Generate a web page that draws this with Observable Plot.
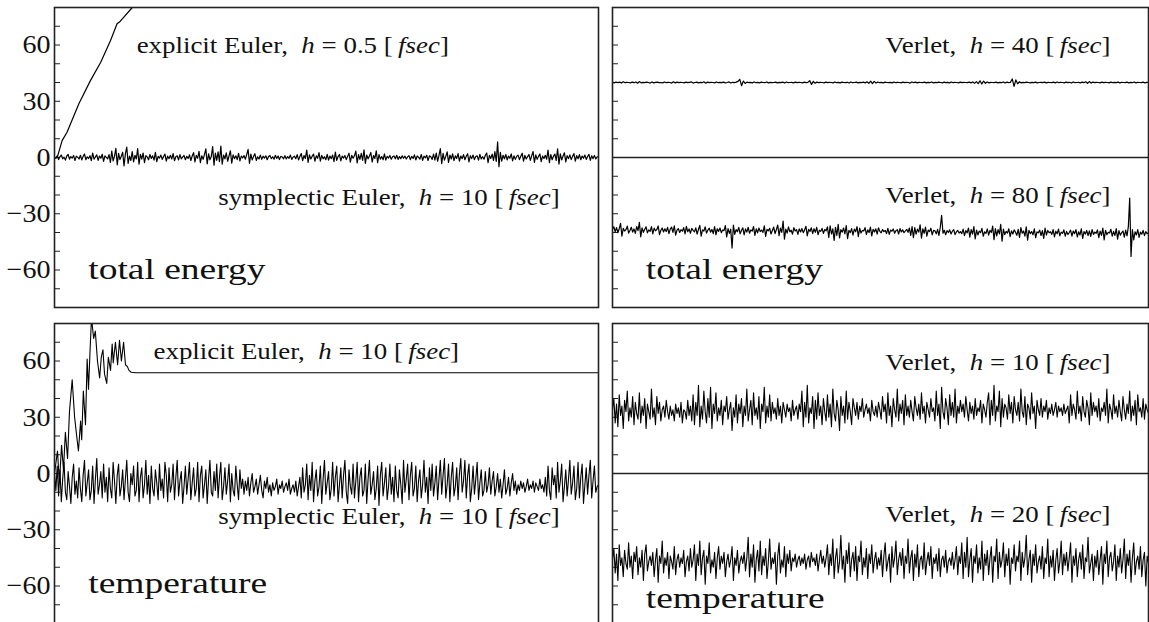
<!DOCTYPE html>
<html><head><meta charset="utf-8">
<script src="https://cdn.jsdelivr.net/npm/d3@7"></script>
<script src="https://cdn.jsdelivr.net/npm/@observablehq/plot@0.6"></script>
<style>
html,body{margin:0;padding:0;background:#fff;overflow:hidden;}
#fig{position:relative;width:1149px;height:622px;overflow:hidden;}
#fig > div{position:absolute;}
#fig text{font-family:'Liberation Serif','Times New Roman',serif !important;font-variant:normal !important;}
</style></head><body><div id="fig"></div>
<script>
// ---- data ----
const yTicks = [-70, -60, -50, -40, -30, -20, -10, 0, 10, 20, 30, 40, 50, 60, 70];
const yTickLabels = [-60, -30, 0, 30, 60];

// top-left: total energy
const energyExplicitT = [4, 6, 14, 23, 45, 66, 85, 103, 115, 121, 143, 160];
const energyExplicitV = [0, 1, 9, 13.5, 28.8, 41, 50.8, 62.4, 71.3, 72.7, 80, 89];
const energySymplectic = [
 0.3, -0.5, 0.9, -1.1, 0.4, 1.3, -0.7, 0.2, -1.4, 0.8, 1.6, -0.9, 0.5, -0.3, 1.1, -1.6, 0.7, 0.2, -0.8, 1.2,
 -1.3, 0.6, 1.9, -1.2, 0.4, -0.6, 1.0, -1.7, 2.3, -0.9, 0.3, 1.4, -1.5, 0.8, -0.4, 1.7, -2.1, 0.9, 0.1, -0.7,
 1.5, -2.6, 3.4, -1.8, 0.6, 4.9, -3.9, 2.2, -1.1, 0.7, 2.8, -4.5, 1.9, 5.6, -3.2, 0.8, -1.6, 3.1, -2.4, 1.2,
 -0.8, 4.8, -3.6, 1.7, -0.9, 2.4, -2.8, 1.0, 0.3, -1.2, 1.6, -0.5, 0.9, -1.4, 2.7, -2.2, 0.6, -0.3, 1.3, -1.0,
 0.5, 1.8, -1.9, 0.7, -0.6, 1.2, -0.8, 2.1, -1.7, 0.4, 0.9, -1.3, 1.5, -0.7, 0.2, 1.1, -1.2, 0.6, -0.5, 1.4,
 -1.6, 0.8, 2.6, -2.3, 1.1, -0.4, 3.3, -2.7, 0.9, -1.0, 1.7, 4.6, -3.4, 2.0, -1.2, 0.5, 5.8, -4.1, 2.4, -1.5,
 3.0, -2.2, 6.1, -3.6, 1.3, -0.7, 2.5, -2.0, 0.8, 3.6, -3.0, 1.4, -0.6, 0.9, -1.1, 2.2, -1.8, 0.7, -0.2, 1.0,
 -0.9, 1.6, 4.3, -3.1, 1.8, -1.3, 0.6, 2.0, -1.6, 0.4, -0.8, 1.3, -1.0, 0.7, -0.3, 0.9, -1.2, 0.5, 1.1, -0.6,
 0.4, -0.9, 1.2, -0.5, 0.8, -1.1, 0.6, 0.3, -0.7, 1.0, -0.8, 0.5, -0.4, 1.3, -1.0, 0.2, 0.7, -0.6, 1.5, -1.3,
 0.6, 2.1, -1.7, 1.0, -0.5, 3.9, -2.6, 1.4, -0.8, 0.7, 1.8, -2.0, 0.9, -0.4, 2.6, -1.9, 1.1, -0.7, 0.4, -1.2,
 1.7, -1.4, 0.8, -0.6, 1.3, -2.2, 2.9, -1.5, 0.5, 1.6, -1.8, 0.7, -0.3, 1.0, -1.1, 0.6, 2.3, -2.5, 1.2, -0.4,
 0.9, 3.4, -2.9, 1.5, -1.0, 2.2, -1.6, 4.1, -3.2, 1.3, -0.7, 0.8, 2.7, -2.4, 1.0, -0.5, 3.5, -2.8, 1.6, -0.9,
 0.5, -1.2, 1.9, -1.4, 0.6, -0.3, 1.1, -0.9, 0.4, 0.8, -0.7, 1.2, -1.0, 0.5, -0.6, 0.9, -0.4, 0.7, -0.8, 0.3,
 1.0, -1.1, 0.6, -0.5, 1.4, -1.3, 0.8, 0.2, -0.9, 1.6, -1.5, 0.7, -0.2, 1.2, -1.6, 0.9, 0.4, -1.0, 1.8, -1.4,
 2.4, -2.0, 1.1, 4.7, -3.3, 2.2, -1.4, 0.6, 3.0, -2.6, 1.3, -0.8, 1.9, -1.7, 0.9, -0.5, 2.1, -1.9, 0.8, -0.6,
 1.5, -1.2, 0.7, 2.0, -2.3, 1.0, -0.6, 1.3, -1.1, 0.5, 0.9, -1.4, 1.7, -0.8, 0.4, -0.9, 1.2, 2.4, -2.7, 1.1,
 -0.5, 1.8, -1.6, 3.1, -2.1, 8.3, -4.9, 2.7, -1.9, 1.2, -0.7, 1.6, -1.3, 0.8, -0.4, 1.9, -1.8, 0.9, -1.0, 0.6,
 1.3, -1.1, 0.7, 2.3, -2.0, 1.1, -0.8, 0.5, 1.6, -1.5, 0.9, 3.2, -2.6, 1.4, -1.0, 0.6, 1.9, -2.2, 0.8, -0.5,
 1.2, -0.9, 3.9, -2.8, 1.6, -1.2, 0.7, 1.8, -1.6, 4.6, -3.5, 1.9, -1.3, 0.8, 2.5, -2.3, 1.0, -0.6, 1.4, -1.1,
 0.6, 2.1, -1.9, 1.0, -0.7, 1.5, -1.2, 0.8, -0.4, 1.3, -1.0, 0.5, 1.7, -1.5, 0.9, -0.6, 1.1, -0.8, 0.4, 0.2
];

// top-right: total energy, Verlet (drawn shifted to +40 / -40)
const energyVerlet40 = [
 40.1, 39.8, 40.3, 39.9, 40.2, 39.7, 40.4, 39.9, 40.1, 40.0, 39.8, 40.2, 39.9, 40.3, 39.6, 40.5, 39.8, 40.1, 39.9, 40.2,
 40.0, 39.7, 40.3, 39.8, 40.1, 40.2, 39.9, 40.0, 39.8, 40.3, 39.9, 40.1, 40.0, 39.7, 40.4, 39.8, 40.2, 39.9, 40.1, 40.0,
 39.8, 40.2, 39.9, 40.1, 40.3, 39.7, 40.0, 40.2, 39.8, 40.1, 39.9, 40.4, 39.6, 40.2, 39.9, 40.1, 40.0, 39.8, 40.3, 39.9,
 40.1, 39.9, 40.2, 39.8, 40.0, 40.3, 39.7, 40.1, 39.9, 40.2, 40.6, 41.7, 38.3, 40.8, 39.5, 40.2, 39.9, 40.1, 39.8, 40.3,
 39.9, 40.1, 39.8, 40.2, 40.0, 39.9, 40.3, 39.8, 40.1, 39.9, 40.0, 40.2, 39.8, 40.1, 39.9, 40.2, 39.7, 40.3, 39.9, 40.0,
 40.1, 39.8, 40.2, 39.9, 40.1, 40.0, 39.8, 40.2, 39.9, 40.1, 41.0, 39.0, 40.6, 39.6, 40.2, 39.9, 40.1, 40.0, 39.8, 40.2,
 39.9, 40.1, 40.0, 39.8, 40.3, 39.9, 40.1, 39.8, 40.2, 40.0, 39.9, 40.1, 39.7, 40.3, 39.9, 40.0, 40.2, 39.8, 40.1, 39.9,
 40.2, 39.8, 40.4, 39.5, 40.7, 39.4, 40.6, 39.7, 40.3, 39.9, 40.1, 39.8, 40.2, 40.0, 39.9, 40.1, 39.8, 40.3, 39.9, 40.1,
 40.0, 39.8, 40.2, 39.9, 40.1, 40.0, 39.7, 40.3, 39.9, 40.2, 39.8, 40.1, 40.0, 39.9, 40.2, 39.8, 40.1, 39.9, 40.3, 39.8,
 40.1, 39.9, 40.2, 40.0, 39.8, 40.2, 39.9, 40.1, 39.8, 40.3, 39.9, 40.1, 40.0, 39.8, 40.2, 39.9, 40.1, 40.0, 39.9, 40.2,
 39.8, 40.3, 39.6, 40.5, 39.4, 40.9, 39.2, 40.7, 39.6, 40.3, 39.8, 40.1, 40.0, 39.9, 40.2, 39.8, 40.1, 39.9, 40.3, 39.7,
 40.2, 39.9, 40.1, 41.9, 37.9, 41.4, 39.3, 40.4, 39.8, 40.1, 39.9, 40.2, 40.0, 39.8, 40.1, 39.9, 40.2, 39.8, 40.0, 40.1,
 39.9, 40.2, 39.8, 40.1, 40.0, 39.9, 40.2, 39.8, 40.3, 39.9, 40.1, 40.0, 39.8, 40.2, 39.9, 40.1, 39.7, 40.3, 39.9, 40.0,
 40.1, 39.8, 40.2, 39.9, 40.4, 39.6, 40.5, 39.7, 40.2, 39.9, 40.1, 40.0, 39.8, 40.2, 39.9, 40.1, 40.0, 39.8, 40.2, 39.9,
 40.1, 39.9, 40.2, 39.8, 40.1, 40.0, 39.9, 40.2, 39.8, 40.1, 39.9, 40.3, 39.8, 40.1, 40.0, 39.9, 40.2, 39.8, 40.1, 40.0
];
const energyVerlet80 = [
 -38.2, -36.9, -39.6, -37.4, -40.1, -38.0, -35.1, -41.9, -37.8, -39.2, -38.5, -36.6, -40.3, -38.9, -37.2, -39.8, -38.1, -40.5, -36.8, -39.0,
 -34.6, -42.3, -37.5, -39.9, -38.3, -37.0, -40.2, -38.6, -39.4, -36.9, -40.7, -37.7, -39.1, -38.4, -36.5, -41.1, -38.8, -37.6, -39.7, -38.0,
 -39.5, -37.3, -40.6, -38.2, -37.1, -39.9, -36.4, -41.4, -38.7, -37.9, -40.0, -38.5, -39.3, -37.4, -40.8, -36.7, -39.6, -38.1, -40.4, -37.8,
 -38.9, -39.7, -37.5, -40.9, -38.3, -36.2, -42.0, -38.6, -39.2, -37.0, -40.3, -38.8, -37.7, -39.8, -38.4, -40.6, -36.9, -41.2, -38.0, -39.4,
 -37.6, -40.1, -38.7, -39.0, -36.3, -42.4, -37.9, -40.5, -38.2, -48.3, -36.1, -41.0, -38.5, -39.6, -37.3, -40.7, -38.9, -37.5, -41.3, -38.1,
 -39.8, -37.2, -40.4, -38.6, -39.3, -36.8, -41.6, -38.0, -40.2, -37.6, -39.5, -38.7, -40.0, -36.5, -42.1, -38.3, -39.1, -37.8, -40.8, -38.9,
 -37.1, -40.6, -38.4, -36.0, -41.7, -37.7, -39.9, -33.9, -43.6, -38.2, -40.3, -37.0, -39.6, -38.8, -40.9, -37.4, -39.2, -38.5, -41.0, -38.1,
 -39.7, -37.9, -40.1, -38.6, -36.7, -41.8, -38.3, -39.5, -37.5, -40.6, -38.0, -39.9, -37.3, -41.2, -38.7, -39.4, -37.8, -40.5, -38.4, -39.1,
 -37.0, -42.6, -36.4, -40.8, -38.1, -44.2, -37.2, -41.5, -35.6, -42.9, -38.5, -39.8, -37.6, -40.7, -36.3, -43.3, -38.8, -40.1, -37.9, -41.4,
 -38.2, -39.6, -36.9, -42.2, -37.7, -40.3, -38.9, -39.2, -37.4, -41.1, -38.6, -40.0, -37.1, -41.8, -38.3, -39.7, -38.0, -40.9, -37.5, -39.4,
 -40.2, -38.4, -39.5, -38.9, -40.6, -37.8, -41.0, -38.7, -39.3, -38.1, -40.4, -39.0, -38.5, -40.8, -37.9, -39.7, -38.6, -40.1, -39.2, -38.3,
 -39.9, -37.6, -41.5, -36.8, -42.7, -37.4, -40.9, -38.2, -39.8, -35.9, -43.0, -38.0, -40.5, -37.1, -41.9, -38.7, -39.5, -37.7, -41.3, -38.9,
 -39.1, -40.7, -38.3, -41.6, -37.2, -30.9, -40.4, -38.8, -41.2, -39.0, -40.0, -38.6, -40.8, -39.3, -38.5, -41.1, -39.7, -38.9, -40.3, -39.5,
 -40.6, -38.2, -41.7, -39.0, -40.2, -37.6, -42.5, -38.4, -40.9, -36.9, -43.4, -38.7, -41.3, -39.2, -40.1, -37.8, -42.0, -39.6, -40.5, -38.1,
 -41.4, -38.9, -40.0, -36.6, -43.8, -37.9, -41.8, -38.5, -40.7, -35.7, -44.6, -38.2, -41.1, -39.4, -40.3, -38.0, -42.2, -39.1, -40.8, -38.6,
 -39.9, -41.5, -38.3, -42.6, -37.4, -40.4, -39.2, -41.9, -37.0, -44.1, -38.8, -40.6, -39.5, -41.2, -38.1, -42.8, -39.7, -40.2, -38.7, -41.6,
 -39.0, -43.1, -37.6, -41.4, -38.9, -40.1, -39.6, -41.0, -38.4, -42.3, -39.3, -40.7, -38.2, -41.8, -39.8, -40.5, -38.6, -42.0, -39.4, -41.1,
 -40.0, -38.7, -41.9, -39.2, -40.6, -38.5, -42.4, -39.6, -41.3, -38.0, -43.2, -39.5, -40.8, -38.9, -41.7, -39.1, -42.1, -38.4, -41.0, -39.8,
 -40.4, -38.6, -42.7, -39.3, -41.5, -37.7, -43.9, -38.8, -41.2, -39.9, -40.3, -38.3, -42.0, -39.4, -41.6, -37.9, -43.5, -39.0, -41.4, -40.1,
 -39.2, -42.5, -38.7, -41.8, -36.9, -21.6, -52.8, -38.4, -44.0, -39.6, -41.3, -38.5, -42.6, -39.8, -40.9, -38.9, -41.7, -39.5, -40.6, -40.2
];

// bottom-left: temperature
const tempExplicitT = [0, 5.5, 9, 13, 16.5, 20, 24, 27.5, 32.5, 37, 40, 44, 48, 50, 53, 57, 60, 62.5, 65, 68, 72, 75, 79, 83, 86, 89, 92, 96, 99, 103, 106, 108, 112, 116, 119.5, 123, 127, 130.5, 134, 137, 141, 149, 1000];
const tempExplicitV = [0, 12, -5, 15, 2, 22, 8, 33, 50, 30, 22, 12, 28, 18, 44, 26, 61, 45, 63, 83, 72, 76, 60, 51, 62, 66, 53, 48, 62, 55, 69, 59, 70, 58, 71, 60, 70, 58, 57, 55, 54, 53.7, 53.7];
const tempSymplectic = [
 0, -9, 4, -12, 2, -15, -3, 6, -10, -14, 1, -7, -16, -2, 5, -11, -4, -13, 3, -8,
 -15, -1, 7, -12, -5, 2, -14, -9, 4, -16, -3, 8, -11, -6, 1, -13, 5, -10, -2, -15,
 3, -8, -13, 6, -4, -16, -1, 5, -12, -7, 2, -14, -3, 7, -10, -15, 0, -6, 4, -12,
 -9, 6, -15, -2, 3, -13, -6, 7, -11, -1, -16, 4, -8, -12, 2, -5, -14, 5, -9, -3,
 -13, 6, -1, -15, 3, -10, -6, 5, -14, -2, 7, -12, -4, 1, -16, -7, 4, -11, -3, 6,
 -14, -5, 3, -12, -8, 6, -15, -1, 4, -13, -6, 2, -16, -3, 7, -10, -12, 1, -9, 5,
 -13, -2, 6, -14, -7, 3, -11, -4, 5, -15, 0, -9, -12, 4, -6, -14, 2, -8, -3, -11,
 -4, -9, -2, -12, -5, 0, -10, -7, -3, -11, -6, -1, -9, -13, -4, -8, -2, -10, -6, -12,
 -5, -9, -7, -3, -11, -6, -8, -4, -10, -7, -5, -9, -3, -11, -8, -6, -10, -4, -12, -7,
 -2, -13, 3, -10, -6, 5, -14, -1, -9, 6, -15, -4, 2, -12, -7, 4, -16, -3, 7, -11,
 -5, 1, -14, -8, 6, -12, -2, 4, -15, -6, 3, -13, -1, 7, -10, -16, 2, -7, -11, 5,
 -13, -4, 6, -15, -2, 3, -12, -9, 5, -16, -3, 7, -11, -6, 1, -14, -8, 4, -17, -1,
 6, -12, -5, 3, -14, -7, 5, -11, -2, -15, 4, -9, -13, 2, -6, -16, 7, -10, -3, 5,
 -14, -1, 6, -12, -8, 4, -15, -4, 2, -13, -6, 7, -10, -2, -16, 3, -9, 5, -12, -5,
 4, -14, -3, 7, -11, -1, 8, -13, -6, 5, -15, -2, 6, -12, -7, 3, -14, 0, 8, -10,
 -4, 7, -13, -1, 5, -15, -8, 4, -11, -3, 6, -14, -5, 2, -12, -9, 1, -10, -6, 3,
 -11, -4, 1, -12, -7, 0, -10, -3, -13, -6, 2, -11, -8, -2, -12, -5, 0, -9, -4, -11,
 -6, -9, -4, -8, -5, -10, -7, -3, -9, -6, -8, -4, -10, -5, -7, -9, -3, -8, -6, -10,
 -2, -12, 4, -9, -14, 3, -6, -1, -13, 6, -10, -4, 5, -15, -7, 2, -12, -3, 7, -11,
 -5, 4, -14, -8, 6, -13, -2, 5, -16, -6, 3, -11, -1, 7, -13, -4, 4, -10, -7, -6
];

// bottom-right: temperature, Verlet (drawn shifted to +40 / -40)
const tempVerlet10 = [
 34, 40, 27, 37, 25, 42, 31, 36, 24, 39, 33, 44, 28, 35, 30, 41, 26, 38, 32, 29,
 43, 27, 36, 31, 40, 24, 37, 33, 29, 45, 30, 35, 26, 41, 32, 38, 28, 34, 36, 30,
 39, 33, 29, 36, 31, 34, 28, 37, 32, 35, 30, 38, 27, 34, 33, 29, 39, 31, 36, 28,
 42, 26, 38, 31, 47, 25, 36, 29, 44, 33, 27, 40, 30, 46, 24, 37, 32, 43, 28, 35,
 31, 39, 26, 36, 33, 41, 29, 34, 38, 23, 35, 30, 42, 27, 37, 32, 40, 25, 36, 31,
 45, 28, 34, 39, 26, 43, 31, 35, 29, 41, 24, 37, 33, 46, 27, 36, 30, 42, 28, 38,
 32, 35, 29, 40, 31, 36, 27, 38, 34, 30, 37, 33, 35, 28, 39, 31, 34, 36, 29, 37,
 33, 44, 25, 38, 30, 47, 27, 35, 32, 41, 24, 39, 29, 43, 31, 36, 26, 40, 33, 28,
 42, 30, 37, 25, 45, 32, 28, 39, 34, 23, 41, 31, 36, 27, 44, 29, 38, 33, 26, 40,
 35, 31, 38, 29, 36, 33, 40, 30, 34, 37, 32, 35, 28, 39, 33, 31, 36, 30, 38, 34,
 29, 41, 33, 37, 27, 43, 31, 36, 25, 40, 34, 30, 45, 28, 37, 32, 39, 26, 42, 31,
 36, 30, 39, 33, 28, 41, 35, 31, 37, 29, 43, 32, 36, 27, 38, 34, 30, 40, 33, 35,
 28, 44, 31, 37, 24, 46, 33, 29, 40, 35, 26, 42, 31, 38, 30, 45, 27, 36, 32, 39,
 33, 37, 30, 41, 34, 28, 38, 32, 36, 29, 40, 31, 35, 33, 39, 27, 37, 34, 30, 38,
 43, 26, 39, 31, 47, 28, 36, 33, 44, 25, 40, 30, 37, 35, 29, 42, 32, 38, 27, 41,
 34, 31, 38, 28, 45, 33, 30, 41, 26, 37, 35, 29, 43, 32, 36, 24, 39, 34, 31, 40,
 30, 36, 33, 39, 29, 35, 32, 37, 31, 34, 38, 30, 36, 33, 35, 31, 37, 32, 34, 36,
 27, 42, 31, 37, 34, 29, 44, 32, 36, 28, 41, 33, 30, 39, 35, 26, 43, 31, 38, 33,
 36, 30, 40, 28, 35, 33, 38, 31, 45, 27, 37, 34, 29, 42, 32, 36, 30, 39, 33, 28,
 41, 34, 29, 37, 32, 44, 28, 36, 31, 39, 26, 42, 33, 35, 30, 40, 29, 37, 34, 32
];
const tempVerlet20 = [
 -46, -40, -53, -43, -57, -38, -49, -45, -55, -41, -48, -51, -37, -50, -44, -56, -42, -47, -39, -54,
 -45, -50, -41, -57, -43, -38, -52, -47, -44, -49, -42, -55, -46, -40, -58, -44, -48, -36, -53, -45,
 -49, -42, -56, -44, -47, -51, -39, -54, -46, -43, -50, -45, -48, -41, -55, -47, -44, -52, -40, -50,
 -46, -38, -57, -43, -49, -36, -54, -45, -41, -59, -44, -48, -37, -53, -46, -50, -42, -56, -45, -39,
 -51, -44, -48, -42, -55, -47, -43, -50, -46, -39, -57, -45, -49, -41, -53, -47, -44, -48, -42, -52,
 -45, -34, -55, -43, -50, -38, -58, -46, -41, -52, -36, -54, -44, -49, -40, -56, -47, -35, -51, -45,
 -48, -42, -59, -44, -37, -53, -46, -50, -39, -55, -43, -48, -41, -52, -45, -47, -43, -50, -46, -44,
 -49, -45, -48, -43, -51, -46, -44, -50, -42, -47, -45, -49, -43, -52, -46, -41, -48, -44, -50, -45,
 -38, -54, -43, -49, -35, -56, -45, -40, -53, -47, -33, -51, -44, -58, -41, -48, -37, -55, -46, -42,
 -52, -39, -57, -44, -47, -36, -54, -45, -50, -40, -56, -43, -48, -38, -53, -46, -42, -51, -45, -49,
 -41, -55, -44, -37, -52, -47, -43, -58, -39, -50, -45, -36, -54, -46, -42, -49, -40, -56, -44, -48,
 -35, -53, -45, -41, -57, -43, -50, -38, -55, -46, -44, -51, -37, -54, -47, -42, -49, -39, -56, -45,
 -48, -43, -52, -40, -55, -46, -44, -50, -41, -53, -47, -45, -49, -42, -51, -46, -39, -54, -44, -48,
 -37, -56, -42, -50, -34, -55, -46, -40, -58, -44, -48, -38, -53, -45, -51, -36, -57, -43, -49, -41,
 -54, -45, -39, -58, -44, -47, -35, -56, -42, -50, -46, -37, -55, -43, -49, -40, -59, -45, -48, -38,
 -52, -44, -47, -36, -57, -42, -50, -45, -33, -54, -46, -41, -58, -43, -49, -38, -53, -47, -44, -51,
 -39, -56, -45, -48, -35, -55, -44, -50, -41, -57, -46, -40, -53, -47, -36, -54, -43, -49, -42, -52,
 -45, -37, -58, -44, -49, -40, -55, -46, -42, -51, -38, -56, -45, -47, -34, -53, -48, -43, -57, -44,
 -50, -41, -54, -46, -39, -59, -43, -48, -36, -55, -45, -42, -52, -47, -38, -57, -44, -50, -40, -53,
 -46, -35, -56, -43, -49, -41, -58, -45, -37, -54, -47, -44, -51, -39, -55, -46, -42, -60, -44, -48
];

// annotations: [text, t, value]
const labelsTL = [["explicit Euler,\u2002h = 0.5 [\u2009fsec]", 151, 56], ["symplectic Euler,\u2002h = 10 [\u2009fsec]", 301, -25.5]];
const titleTL = [["total energy", 62, -65]];
const labelsTR = [["Verlet,\u2002h = 40 [\u2009fsec]", 509, 56], ["Verlet,\u2002h = 80 [\u2009fsec]", 509, -24]];
const titleTR = [["total energy", 62, -65]];
const labelsBL = [["explicit Euler,\u2002h = 10 [\u2009fsec]", 182, 61.3], ["symplectic Euler,\u2002h = 10 [\u2009fsec]", 301, -26.7]];
const titleBL = [["temperature", 62, -63.8]];
const labelsBR = [["Verlet,\u2002h = 10 [\u2009fsec]", 509, 55], ["Verlet,\u2002h = 20 [\u2009fsec]", 509, -26]];
const titleBR = [["temperature", 62, -71.5]];

// ---- drawing ----
const FONT = "'Liberation Serif', 'Times New Roman', serif";
const indexT = (s) => s.map((_, i) => i * 1000 / (s.length - 1));

function panel({left, top, width, marginLeft, marginRight, showLabels, divider, lines, labels, titles}) {
  const marks = [
    Plot.axisY({ticks: yTicks, tickSize: -6, fill: "none", label: null, stroke: "#222"}),
    showLabels ? Plot.axisY({ticks: yTickLabels, tickSize: 0, tickPadding: 4, stroke: "none", fontSize: 26, label: null, fill: "#111"}) : null,
    divider ? Plot.ruleY([0], {stroke: "#222", strokeWidth: 1.5}) : null,
    ...lines.map(([t, v, w]) => Plot.lineY(v, {x: t, stroke: "#000", strokeWidth: w, clip: true})),
    Plot.text(labels, {x: d => d[1], y: d => d[2], text: d => d[0], textAnchor: "start", lineAnchor: "bottom", fontSize: 23, fill: "#111"}),
    Plot.text(titles, {x: d => d[1], y: d => d[2], text: d => d[0], textAnchor: "start", lineAnchor: "bottom", fontSize: 30, fill: "#111"}),
    Plot.frame({stroke: "#222", strokeWidth: 1.6})
  ];
  const svg = Plot.plot({
    width, height: 310, marginLeft, marginRight, marginTop: 7, marginBottom: 3,
    x: {domain: [0, 1000], axis: null},
    y: {domain: [-80, 80], axis: null},
    style: {fontFamily: FONT, background: "transparent", overflow: "visible"},
    marks
  });
  svg.querySelectorAll("text").forEach(t => {
    const s = t.textContent;
    let k = 1.08;
    if (s.includes("fsec")) {
      k = 1.17;
      t.innerHTML = s.replace(/(\s)h(\s)/, '$1<tspan font-style="italic">h</tspan>$2')
                     .replace("fsec", '<tspan font-style="italic">fsec</tspan>');
    } else if (/[a-z]/.test(s)) {
      k = 1.25;
    } else {
      t.setAttribute("font-size", 26);
    }
    const tr = t.getAttribute("transform");
    if (tr) t.setAttribute("transform", tr + ` scale(${k},1)`);
  });
  const div = document.createElement("div");
  div.style.left = left + "px";
  div.style.top = top + "px";
  div.appendChild(svg);
  document.getElementById("fig").appendChild(div);
}

panel({left: 0, top: 0, width: 600, marginLeft: 54, marginRight: 2, showLabels: true, divider: false,
  lines: [[energyExplicitT, energyExplicitV, 1.2], [indexT(energySymplectic), energySymplectic, 1.2]],
  labels: labelsTL, titles: titleTL});
panel({left: 600, top: 0, width: 549, marginLeft: 12, marginRight: 1, showLabels: false, divider: true,
  lines: [[indexT(energyVerlet40), energyVerlet40, 1.2], [indexT(energyVerlet80), energyVerlet80, 1.2]],
  labels: labelsTR, titles: titleTR});
panel({left: 0, top: 316, width: 600, marginLeft: 54, marginRight: 2, showLabels: true, divider: false,
  lines: [[tempExplicitT, tempExplicitV, 1.1], [indexT(tempSymplectic), tempSymplectic, 1.1]],
  labels: labelsBL, titles: titleBL});
panel({left: 600, top: 316, width: 549, marginLeft: 12, marginRight: 1, showLabels: false, divider: true,
  lines: [[indexT(tempVerlet10), tempVerlet10, 1.1], [indexT(tempVerlet20), tempVerlet20, 1.1]],
  labels: labelsBR, titles: titleBR});
</script></body></html>
